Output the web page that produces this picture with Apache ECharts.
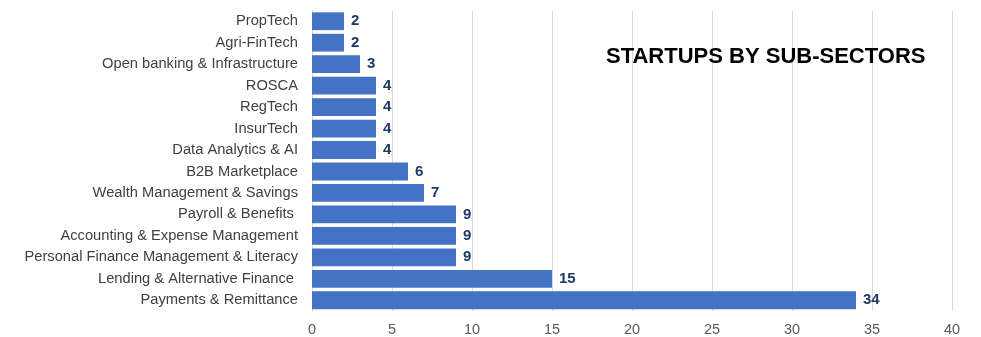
<!DOCTYPE html>
<html>
<head>
<meta charset="utf-8">
<script src="https://cdn.jsdelivr.net/npm/echarts@6/dist/echarts.min.js"></script>
<style>html,body{margin:0;padding:0;background:#fff}#c{width:981px;height:337px}</style>
</head>
<body>
<div id="c"></div>
<script>
const categories = [
  "PropTech",
  "Agri-FinTech",
  "Open banking & Infrastructure",
  "ROSCA",
  "RegTech",
  "InsurTech",
  "Data Analytics & AI",
  "B2B Marketplace",
  "Wealth Management & Savings",
  "Payroll & Benefits ",
  "Accounting & Expense Management",
  "Personal Finance Management & Literacy",
  "Lending & Alternative Finance ",
  "Payments & Remittance"
];
const values = [2, 2, 3, 4, 4, 4, 4, 6, 7, 9, 9, 9, 15, 34];
const xTicks = { min: 0, max: 40, interval: 5 };
const titleText = "STARTUPS BY SUB-SECTORS";

const chart = echarts.init(document.getElementById('c'), null, { renderer: 'canvas' });
chart.setOption({
  animation: false,
  backgroundColor: '#ffffff',
  title: {
    text: titleText,
    left: 601,
    top: 41,
    textStyle: { fontFamily: 'Liberation Sans, Arial, sans-serif', fontWeight: 'bold', fontSize: 22, color: '#000000' }
  },
  grid: { left: 312, right: 29, top: 10.5, bottom: 23, containLabel: false },
  xAxis: {
    type: 'value',
    min: xTicks.min, max: xTicks.max, interval: xTicks.interval,
    axisLine: { show: false },
    axisTick: { show: false },
    axisLabel: { color: '#595959', fontSize: 14.5, margin: 11, fontFamily: 'Liberation Sans, Arial, sans-serif' },
    splitLine: { show: true, lineStyle: { color: '#d9d9d9', width: 1 } }
  },
  yAxis: {
    type: 'category',
    data: categories,
    inverse: true,
    axisLine: { show: true, lineStyle: { color: '#d9d9d9' } },
    axisTick: { show: false },
    axisLabel: { color: '#404040', fontSize: 14.7, margin: 14, fontFamily: 'Liberation Sans, Arial, sans-serif' }
  },
  series: [{
    type: 'bar',
    data: values,
    barCategoryGap: '17%',
    itemStyle: { color: '#4472c4' },
    label: {
      show: true,
      position: 'right',
      distance: 7,
      color: '#1f3864',
      fontWeight: 'bold',
      fontSize: 15,
      fontFamily: 'Liberation Sans, Arial, sans-serif'
    }
  }]
});
</script>
</body>
</html>
